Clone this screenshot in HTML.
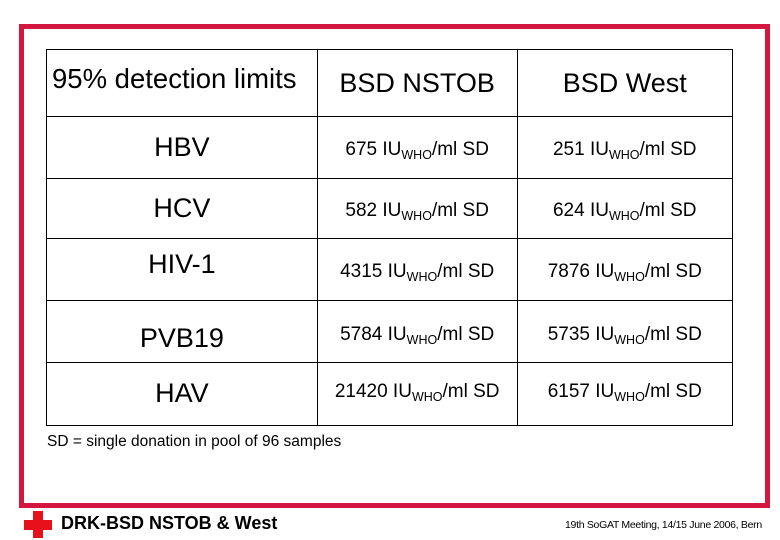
<!DOCTYPE html>
<html><head><meta charset="utf-8"><style>
body{margin:0;width:780px;height:540px;background:#fff;position:relative;overflow:hidden;font-family:"Liberation Sans",Arial,sans-serif;color:#000}
.a{position:absolute}
.frame{left:19px;top:24px;width:741px;height:474px;border:5px solid #d3173f}
table{position:absolute;left:46px;top:49px;width:687px;height:376px;border-collapse:collapse}
td{border:1.3px solid #000;text-align:center;padding:0;font-size:19px;white-space:nowrap}
td.d{padding-top:6px}
td.h{font-size:27px}
sub{font-size:12.5px;vertical-align:-4px}
</style></head><body>
<div class="a frame"></div>
<table>
<colgroup><col style="width:271px"><col style="width:200px"><col style="width:216px"></colgroup>
<tr style="height:67px"><td class="h" style="text-align:left;padding-left:5px;vertical-align:top;padding-top:13px;font-size:27.5px">95% detection limits</td><td class="h">BSD NSTOB</td><td class="h">BSD West</td></tr>
<tr style="height:62px"><td class="h">HBV</td><td class="d">675 IU<sub>WHO</sub>/ml SD</td><td class="d">251 IU<sub>WHO</sub>/ml SD</td></tr>
<tr style="height:60px"><td class="h">HCV</td><td class="d">582 IU<sub>WHO</sub>/ml SD</td><td class="d">624 IU<sub>WHO</sub>/ml SD</td></tr>
<tr style="height:62px"><td class="h" style="vertical-align:top;padding-top:10px">HIV-1</td><td class="d">4315 IU<sub>WHO</sub>/ml SD</td><td class="d">7876 IU<sub>WHO</sub>/ml SD</td></tr>
<tr style="height:62px"><td class="h" style="vertical-align:bottom;padding-bottom:8px">PVB19</td><td style="vertical-align:top;padding-top:23px">5784 IU<sub>WHO</sub>/ml SD</td><td style="vertical-align:top;padding-top:23px">5735 IU<sub>WHO</sub>/ml SD</td></tr>
<tr style="height:63px"><td class="h" style="vertical-align:top;padding-top:15px">HAV</td><td style="vertical-align:top;padding-top:18px">21420 IU<sub>WHO</sub>/ml SD</td><td style="vertical-align:top;padding-top:18px">6157 IU<sub>WHO</sub>/ml SD</td></tr>
</table>
<div class="a" style="left:47px;top:433px;font-size:15.5px">SD = single donation in pool of 96 samples</div>
<div class="a" style="left:33px;top:511px;width:10px;height:27px;background:#e8101a"></div>
<div class="a" style="left:24px;top:520px;width:28px;height:10px;background:#e8101a"></div>
<div class="a" style="left:61px;top:513px;font-size:18px;font-weight:bold">DRK-BSD NSTOB &amp; West</div>
<div class="a" style="left:565px;top:519px;font-size:10.5px;letter-spacing:-0.3px">19th SoGAT Meeting, 14/15 June 2006, Bern</div>
</body></html>
